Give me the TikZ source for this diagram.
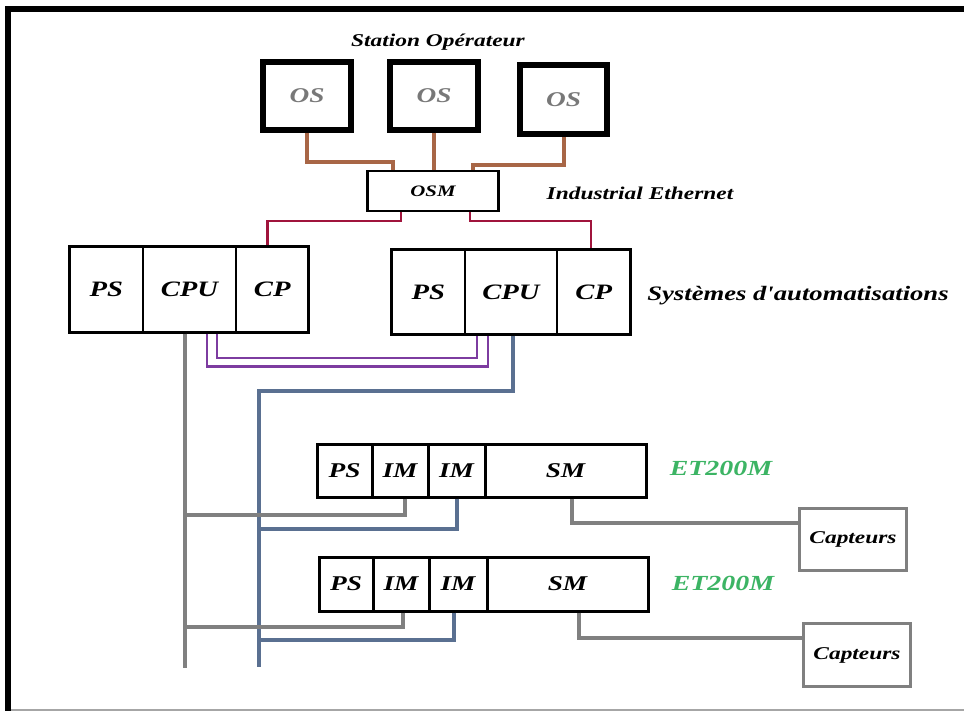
\documentclass[tikz,border=0pt]{standalone}
\usepackage{fontspec}
\setmainfont{Liberation Serif}
\newfontfamily\dfont[FakeStretch=1.3]{Liberation Serif}
\definecolor{brownc}{RGB}{168,102,70}
\definecolor{redc}{RGB}{160,20,60}
\definecolor{purplec}{RGB}{125,60,160}
\definecolor{bluec}{RGB}{90,112,145}
\definecolor{grayc}{RGB}{128,128,128}
\definecolor{greenc}{RGB}{60,180,100}
\definecolor{ostext}{RGB}{120,120,120}
\newcommand{\fs}[1]{\dfont\bfseries\itshape\fontsize{#1}{#1}\selectfont}
\begin{document}
\begin{tikzpicture}[x=1pt,y=-1pt,
  osbox/.style={draw, line width=6pt, minimum width=88pt, minimum height=68pt, inner sep=0pt, font=\fs{21}, text=ostext},
  osmbox/.style={draw, line width=2.5pt, minimum width=131pt, minimum height=40pt, inner sep=0pt, font=\fs{16}},
  plcpart/.style={draw, line width=2.5pt, inner sep=0pt, font=\fs{22}},
  etpart/.style={draw, line width=3pt, inner sep=0pt, font=\fs{21}},
  capbox/.style={draw=grayc, line width=3pt, minimum width=107pt, minimum height=62pt, inner sep=0pt, font=\fs{18}},
  lbl/.style={inner sep=0pt},
  brownline/.style={draw=brownc, line width=4pt},
  redline/.style={draw=redc, line width=2.5pt},
  purpleline/.style={draw=purplec, line width=2.5pt},
  blueline/.style={draw=bluec, line width=4pt},
  grayline/.style={draw=grayc, line width=4pt},
  line join=miter]
\useasboundingbox (0,0) rectangle (964,711);
\fill[white] (0,0) rectangle (964,711);
% frame
\draw[line width=6pt] (8,711) -- (8,9) -- (964,9);
\draw[line width=1.5pt, black!35] (11,710) -- (964,710);

% texts
\node[lbl, font=\fs{18}] (tstation) at (438,42) {Station Opérateur};
\node[lbl, font=\fs{18}] (tie) at (640,193) {Industrial Ethernet};
\node[lbl, font=\fs{20.5}] (tsys) at (798,296) {Systèmes d'automatisations};
\node[lbl, font=\fs{21.5}, text=greenc] (tet1) at (721,468) {ET200M};
\node[lbl, font=\fs{21.5}, text=greenc] (tet2) at (723,583) {ET200M};

% OS
\node[osbox] (os1) at (307,96) {OS};
\node[osbox] (os2) at (434,96) {OS};
\node[osbox, minimum width=87pt, minimum height=69pt] (os3) at (563.5,99.5) {OS};
\node[osmbox] (osm) at (433,191) {OSM};

% PLC 1
\node[plcpart, minimum width=73.5pt, minimum height=86pt] (ps1) at (106.25,289.5) {PS};
\node[plcpart, minimum width=93pt, minimum height=86pt] (cpu1) at (189.5,289.5) {CPU};
\node[plcpart, minimum width=72.5pt, minimum height=86pt] (cp1) at (272.25,289.5) {CP};
% PLC 2
\node[plcpart, minimum width=73.5pt, minimum height=85pt] (ps2) at (428.25,292) {PS};
\node[plcpart, minimum width=92pt, minimum height=85pt] (cpu2) at (511,292) {CPU};
\node[plcpart, minimum width=73.5pt, minimum height=85pt] (cp2) at (593.75,292) {CP};

% ET200M 1
\node[etpart, minimum width=55pt, minimum height=53pt] (etps1) at (344.5,470.5) {PS};
\node[etpart, minimum width=56pt, minimum height=53pt] (etima1) at (400,470.5) {IM};
\node[etpart, minimum width=57pt, minimum height=53pt] (etimb1) at (456.5,470.5) {IM};
\node[etpart, minimum width=161pt, minimum height=53pt] (etsm1) at (565.5,470.5) {SM};
% ET200M 2
\node[etpart, minimum width=54pt, minimum height=54pt] (etps2) at (346,584) {PS};
\node[etpart, minimum width=56pt, minimum height=54pt] (etima2) at (401,584) {IM};
\node[etpart, minimum width=58pt, minimum height=54pt] (etimb2) at (458,584) {IM};
\node[etpart, minimum width=161pt, minimum height=54pt] (etsm2) at (567.5,584) {SM};

% Capteurs
\node[capbox] (cap1) at (853,539.5) {Capteurs};
\node[capbox, minimum height=63pt] (cap2) at (857,655) {Capteurs};

% trunk ends
\coordinate (gbot) at (185,668);
\coordinate (bbot) at (259,667);

% brown links
\draw[brownline] (os1.south) -- ++(0,29) -| ([xshift=-40pt]osm.north);
\draw[brownline] (os2.south) -- (os2.south |- osm.north);
\draw[brownline] (os3.south) -- ++(0,28) -| ([xshift=40pt]osm.north);

% red links
\draw[redline] ([xshift=-32pt]osm.south) -- ++(0,9) -| ([xshift=-5pt]cp1.north);
\draw[redline] ([xshift=37pt]osm.south) -- ++(0,9) -| ([xshift=-3pt]cp2.north);

% purple links
\draw[purpleline] ([xshift=27.5pt]cpu1.south) -- ++(0,24) -| ([xshift=-34pt]cpu2.south);
\draw[purpleline] ([xshift=17.5pt]cpu1.south) -- ++(0,32.5) -| ([xshift=-23pt]cpu2.south);

% gray trunk and blue trunk
\draw[grayline] ([xshift=-4.5pt]cpu1.south) -- (gbot);
\draw[blueline] ([xshift=2pt]cpu2.south) -- ++(0,55) -| (bbot);

% branches ET200M 1
\draw[grayline] ([xshift=5pt]etima1.south) -- ++(0,16) coordinate (g1) -- (gbot |- g1);
\draw[blueline] ([xshift=0.5pt]etimb1.south) -- ++(0,30) coordinate (b1) -- (bbot |- b1);
\draw[grayline] ([xshift=6.5pt]etsm1.south) |- ([yshift=16.5pt]cap1.west);
% branches ET200M 2
\draw[grayline] ([xshift=2pt]etima2.south) -- ++(0,14) coordinate (g2) -- (gbot |- g2);
\draw[blueline] ([xshift=-4pt]etimb2.south) -- ++(0,27) coordinate (b2) -- (bbot |- b2);
\draw[grayline] ([xshift=11.5pt]etsm2.south) |- ([yshift=17pt]cap2.west);
\end{tikzpicture}
\end{document}
